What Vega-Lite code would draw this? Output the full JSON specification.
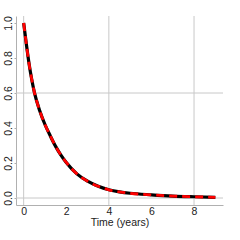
{
  "$schema": "https://vega.github.io/schema/vega-lite/v6.json",
  "width": 207,
  "height": 189,
  "autosize": {"type": "none"},
  "padding": {"left": 16, "top": 16, "right": 17, "bottom": 35},
  "background": "white",
  "config": {
    "view": {"stroke": null},
    "font": "Liberation Sans",
    "axis": {
      "labelFont": "Liberation Sans",
      "titleFont": "Liberation Sans",
      "labelFontSize": 10.5,
      "titleFontSize": 10.5,
      "titleFontWeight": "normal",
      "labelColor": "#222222",
      "titleColor": "#222222",
      "domainColor": "#b0b0b0",
      "tickColor": "#b0b0b0",
      "grid": false,
      "labelOverlap": false
    }
  },
  "datasets": {
    "curve": [
      {"t": 0, "s": 1.0},
      {"t": 0.125, "s": 0.88},
      {"t": 0.25, "s": 0.77},
      {"t": 0.375, "s": 0.68},
      {"t": 0.5, "s": 0.605},
      {"t": 0.75, "s": 0.5},
      {"t": 1.0, "s": 0.42},
      {"t": 1.25, "s": 0.355},
      {"t": 1.5, "s": 0.295},
      {"t": 1.75, "s": 0.245},
      {"t": 2.0, "s": 0.203},
      {"t": 2.5, "s": 0.138},
      {"t": 3.0, "s": 0.096},
      {"t": 3.5, "s": 0.067},
      {"t": 4.0, "s": 0.047},
      {"t": 4.5, "s": 0.035},
      {"t": 5.0, "s": 0.027},
      {"t": 6.0, "s": 0.018},
      {"t": 7.0, "s": 0.011},
      {"t": 8.0, "s": 0.007},
      {"t": 9.0, "s": 0.004}
    ],
    "vlines": [{"x": 0}, {"x": 4}, {"x": 8}],
    "hlines": [{"y": 0}, {"y": 0.6}]
  },
  "encoding": {
    "x": {"type": "quantitative", "scale": {"domain": [-0.36, 9.36], "nice": false, "zero": false},
      "axis": {"values": [0, 2, 4, 6, 8], "ticks": false, "labelPadding": 1, "title": "Time (years)", "titlePadding": 1, "labelFlush": false, "labelOverlap": false}},
    "y": {"type": "quantitative", "scale": {"domain": [-0.04, 1.04], "nice": false, "zero": false},
      "axis": {"values": [0, 0.2, 0.4, 0.6, 0.8, 1.0], "format": ".1f", "tickSize": 2, "labelPadding": 1, "labelAngle": 270, "labelAlign": "center", "labelBaseline": "bottom", "title": null, "labelFlush": false, "labelOverlap": false, "labelBound": false}}
  },
  "layer": [
    {
      "data": {"name": "vlines"},
      "mark": {"type": "rule", "color": "#c8c8c8", "strokeWidth": 1},
      "encoding": {
        "x": {"field": "x", "type": "quantitative"}
      }
    },
    {
      "data": {"name": "hlines"},
      "mark": {"type": "rule", "color": "#c8c8c8", "strokeWidth": 1},
      "encoding": {
        "y": {"field": "y", "type": "quantitative"}
      }
    },
    {
      "data": {"name": "curve"},
      "mark": {"type": "line", "color": "black", "strokeWidth": 3.2, "interpolate": "monotone"},
      "encoding": {
        "x": {"field": "t", "type": "quantitative"},
        "y": {"field": "s", "type": "quantitative"}
      }
    },
    {
      "data": {"name": "curve"},
      "mark": {"type": "line", "color": "#ff0000", "strokeWidth": 2.8, "strokeDash": [8, 5], "interpolate": "monotone"},
      "encoding": {
        "x": {"field": "t", "type": "quantitative"},
        "y": {"field": "s", "type": "quantitative"}
      }
    }
  ]
}
